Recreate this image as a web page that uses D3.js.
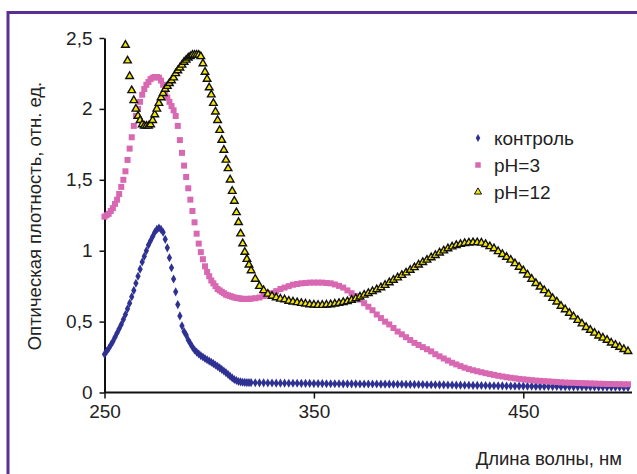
<!DOCTYPE html>
<html><head><meta charset="utf-8">
<script src="https://cdn.jsdelivr.net/npm/d3@7"></script>
<style>html,body{margin:0;padding:0;background:#fff;}svg{display:block;font-family:"Liberation Sans",Arial,sans-serif;}</style>
</head><body>
<script>
// Wavelength grid (nm)
const wavelengths = [
250,251,252,253,254,255,256,257,258,259,260,261,262,263,264,265,266,267,268,269,
270,271,272,273,274,275,276,277,278,279,280,281,282,283,284,285,286,287,288,289,
290,291,292,293,294,295,296,297,298,299,300,301,302,303,304,305,306,307,308,309,
310,311,312,313,314,315,316,317,318,319,320,
322,324,326,328,330,332,334,336,338,340,342,344,346,348,350,352,354,356,358,360,
362,364,366,368,370,372,374,376,378,380,382,384,386,388,390,392,394,396,398,400,
402,404,406,408,410,412,414,416,418,420,422,424,426,428,430,432,434,436,438,440,
442,444,446,448,450,452,454,456,458,460,462,464,466,468,470,472,474,476,478,480,
482,484,486,488,490,492,494,496,498,500];

const control = [
0.27,0.29,0.31,0.335,0.36,0.39,0.42,0.45,0.48,0.515,0.55,0.59,0.63,0.675,0.72,0.77,0.82,0.87,0.92,0.96,
1.0,1.04,1.07,1.1,1.13,1.15,1.16,1.15,1.13,1.08,1.02,0.95,0.88,0.8,0.71,0.62,0.54,0.47,0.43,0.405,
0.37,0.345,0.32,0.3,0.285,0.272,0.26,0.25,0.24,0.231,0.222,0.213,0.204,0.194,0.184,0.174,0.163,0.152,0.14,0.128,
0.115,0.103,0.092,0.085,0.078,0.075,0.072,0.071,0.07,0.07,0.07,
0.069,0.068,0.068,0.067,0.067,0.066,0.066,0.066,0.065,0.065,0.065,0.064,0.064,0.064,0.063,0.063,0.063,0.062,0.062,0.062,
0.062,0.061,0.061,0.061,0.061,0.06,0.06,0.06,0.06,0.06,0.059,0.059,0.059,0.058,0.058,0.058,0.057,0.057,0.057,0.056,
0.056,0.055,0.055,0.055,0.054,0.054,0.053,0.053,0.052,0.052,0.051,0.051,0.05,0.05,0.049,0.049,0.048,0.048,0.047,0.047,
0.046,0.046,0.045,0.045,0.045,0.044,0.044,0.043,0.043,0.043,0.042,0.042,0.042,0.041,0.041,0.041,0.04,0.04,0.04,0.039,
0.039,0.039,0.038,0.038,0.038,0.037,0.037,0.037,0.036,0.036];

const pH3 = [
1.24,1.25,1.26,1.28,1.3,1.33,1.36,1.4,1.45,1.5,1.56,1.64,1.72,1.8,1.88,1.95,2.0,2.05,2.1,2.14,
2.17,2.19,2.21,2.22,2.225,2.225,2.22,2.2,2.17,2.12,2.08,2.05,2.02,1.99,1.95,1.88,1.78,1.69,1.6,1.52,
1.44,1.36,1.28,1.2,1.12,1.05,0.99,0.94,0.89,0.85,0.82,0.79,0.77,0.75,0.73,0.72,0.71,0.7,0.69,0.685,
0.68,0.675,0.67,0.667,0.665,0.662,0.66,0.66,0.66,0.66,0.662,
0.665,0.67,0.68,0.69,0.7,0.715,0.73,0.74,0.75,0.76,0.765,0.77,0.772,0.775,0.775,0.775,0.775,0.772,0.77,0.762,
0.752,0.74,0.72,0.7,0.68,0.655,0.63,0.605,0.58,0.55,0.525,0.5,0.48,0.455,0.43,0.41,0.39,0.37,0.35,0.335,
0.32,0.305,0.29,0.27,0.255,0.24,0.225,0.21,0.198,0.186,0.175,0.165,0.157,0.15,0.143,0.136,0.13,0.124,0.118,0.113,
0.108,0.104,0.1,0.096,0.093,0.09,0.087,0.084,0.082,0.08,0.078,0.076,0.074,0.072,0.07,0.069,0.068,0.067,0.066,0.065,
0.064,0.063,0.062,0.061,0.06,0.06,0.059,0.059,0.058,0.058];

const pH12 = [
null,null,null,null,null,null,null,null,null,null,2.45,2.34,2.23,2.13,2.06,2.0,1.95,1.92,1.89,1.88,
1.88,1.88,1.89,1.92,1.96,2.0,2.04,2.08,2.11,2.14,2.16,2.18,2.2,2.22,2.25,2.27,2.29,2.31,2.33,2.345,
2.36,2.37,2.38,2.38,2.38,2.38,2.37,2.32,2.26,2.21,2.15,2.1,2.04,1.98,1.92,1.85,1.78,1.71,1.64,1.58,
1.5,1.42,1.35,1.27,1.2,1.12,1.05,0.99,0.94,0.9,0.86,
0.8,0.75,0.72,0.695,0.68,0.67,0.66,0.655,0.645,0.64,0.635,0.63,0.625,0.62,0.618,0.616,0.616,0.618,0.62,0.625,
0.63,0.636,0.642,0.652,0.663,0.675,0.688,0.7,0.713,0.726,0.74,0.757,0.775,0.793,0.81,0.827,0.845,0.863,0.882,0.9,
0.918,0.935,0.952,0.968,0.985,1.0,1.015,1.028,1.038,1.046,1.052,1.056,1.058,1.058,1.055,1.045,1.03,1.015,0.995,0.975,
0.955,0.935,0.91,0.885,0.86,0.83,0.8,0.77,0.745,0.72,0.695,0.665,0.64,0.61,0.585,0.56,0.535,0.51,0.485,0.46,
0.44,0.42,0.4,0.385,0.37,0.35,0.335,0.32,0.305,0.29];

const seriesNames = ["контроль", "pH=3", "pH=12"];
const xTicks = [250, 350, 450];
const yTicks = [0, 0.5, 1, 1.5, 2, 2.5];
const yTickLabels = ["0", "0,5", "1", "1,5", "2", "2,5"];
const xTitle = "Длина волны, нм";
const yTitle = "Оптическая плотность, отн. ед.";

const W = 637, H = 474;
const svg = d3.select("body").append("svg").attr("width", W).attr("height", H);

// frame
svg.append("rect").attr("x", 8).attr("y", 12.5).attr("width", 660).attr("height", 500)
  .attr("fill", "none").attr("stroke", "#5b2f91").attr("stroke-width", 3);

const x = d3.scaleLinear().domain([250, 500]).range([104.5, 628]);
const y = d3.scaleLinear().domain([0, 2.5]).range([392.5, 38]);

// axes
const xAxis = d3.axisBottom(x).tickValues(xTicks).tickFormat(d3.format("d")).tickSize(6).tickSizeOuter(0).tickPadding(6);
const gx = svg.append("g").attr("transform", `translate(0,${y(0)})`).call(xAxis);
gx.select(".domain").attr("d", `M${x(250)},0H632`).attr("stroke", "#111").attr("stroke-width", 2);
gx.selectAll(".tick line").attr("stroke", "#111").attr("stroke-width", 1.5);
gx.selectAll(".tick text").attr("font-size", 19).attr("fill", "#222").attr("font-family", "Liberation Sans, Arial, sans-serif");

const yAxis = d3.axisLeft(y).tickValues(yTicks).tickFormat((d, i) => yTickLabels[i]).tickSize(5).tickSizeOuter(0).tickPadding(7);
const gy = svg.append("g").attr("transform", `translate(${x(250)},0)`).call(yAxis);
gy.select(".domain").attr("stroke", "#111").attr("stroke-width", 2);
gy.selectAll(".tick line").attr("stroke", "#111").attr("stroke-width", 1.5);
gy.selectAll(".tick text").attr("font-size", 19).attr("fill", "#222").attr("font-family", "Liberation Sans, Arial, sans-serif");

// titles
svg.append("text").attr("x", 622).attr("y", 465).attr("text-anchor", "end")
  .attr("font-size", 18.5).attr("fill", "#222").text(xTitle);
svg.append("text").attr("transform", "translate(41,216) rotate(-90)").attr("text-anchor", "middle")
  .attr("font-size", 18.5).attr("fill", "#222").text(yTitle);

// series
const styles = [
  {vals: control, sym: d3.symbolDiamond, size: 24, fill: "#2e3192", stroke: "none", sw: 0, leg: 18},
  {vals: pH3, sym: d3.symbolSquare, size: 36, fill: "#d868b2", stroke: "none", sw: 0, leg: 30},
  {vals: pH12, sym: d3.symbolTriangle, size: 25, fill: "#f5e800", stroke: "#111", sw: 1.4, leg: 22}
];
const plot = svg.append("g");
styles.forEach(s => {
  const pts = wavelengths.map((w, i) => ({w, v: s.vals[i]})).filter(d => d.v != null);
  plot.append("g").selectAll("path").data(pts).join("path")
    .attr("d", d3.symbol().type(s.sym).size(s.size))
    .attr("transform", d => `translate(${x(d.w)},${y(d.v)})`)
    .attr("fill", s.fill).attr("stroke", s.stroke).attr("stroke-width", s.sw);
});

// legend
const legY = [138, 165, 192];
const leg = svg.append("g");
styles.forEach((s, i) => {
  leg.append("path").attr("d", d3.symbol().type(s.sym).size(s.leg)())
    .attr("transform", `translate(478,${legY[i]})`)
    .attr("fill", s.fill).attr("stroke", s.stroke).attr("stroke-width", s.sw ? 1 : 0);
  leg.append("text").attr("x", 494).attr("y", legY[i]).attr("dy", "0.36em")
    .attr("font-size", 19).attr("fill", "#222").text(seriesNames[i]);
});
</script>
</body></html>
